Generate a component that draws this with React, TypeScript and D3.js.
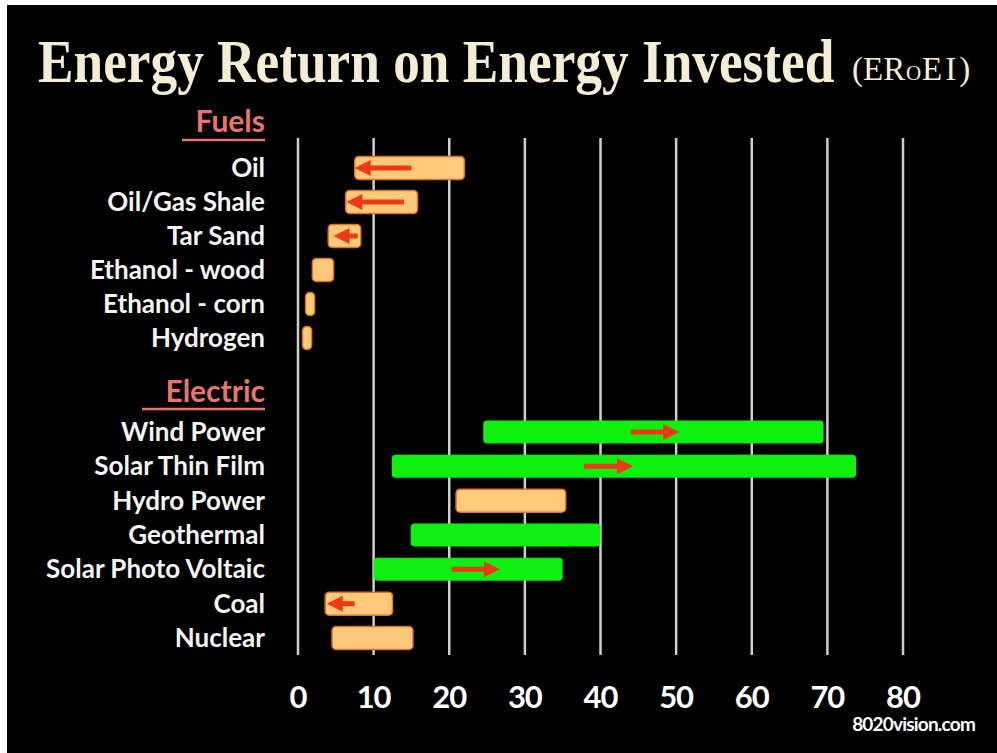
import { scaleLinear, scalePoint } from "d3";

const W = 997;
const H = 753;

const fuelNames = ["Oil", "Oil/Gas Shale", "Tar Sand", "Ethanol - wood", "Ethanol - corn", "Hydrogen"];
const fuelLow = [7.5, 6.3, 4.0, 1.9, 1.0, 0.6];
const fuelHigh = [22.0, 15.8, 8.3, 4.7, 2.2, 1.8];
const fuelTrendFrom: (number | null)[] = [15.0, 14.0, 7.9, null, null, null];
const fuelTrendTo: (number | null)[] = [7.5, 6.4, 4.7, null, null, null];

const electricNames = ["Wind Power", "Solar Thin Film", "Hydro Power", "Geothermal", "Solar Photo Voltaic", "Coal", "Nuclear"];
const electricLow = [24.5, 12.4, 20.9, 14.9, 10.0, 3.6, 4.5];
const electricHigh = [69.5, 73.8, 35.4, 40.0, 35.0, 12.5, 15.2];
const electricRenewable = [true, true, false, true, true, false, false];
const electricTrendFrom: (number | null)[] = [44.0, 37.8, null, null, 20.3, 7.5, null];
const electricTrendTo: (number | null)[] = [50.4, 44.3, null, null, 26.7, 3.8, null];

const xTicks = [0, 10, 20, 30, 40, 50, 60, 70, 80];

const ORANGE = "#ffc97c";
const ORANGE_EDGE = "#d8742c";
const GREEN = "#10f010";
const RED = "#ec3a16";
const CREAM = "#f3edd6";
const SERIF = "'Liberation Serif', 'DejaVu Serif', serif";
const LABEL_FONT = "Lato, 'Open Sans', sans-serif";

function Arrow({ x1, x2, y }: { x1: number; x2: number; y: number }) {
  const dir = x2 > x1 ? 1 : -1;
  const head = 16;
  const base = x2 - dir * head;
  return (
    <g>
      <line x1={x1} x2={base + dir * 1} y1={y} y2={y} stroke={RED} strokeWidth={5} />
      <polygon points={`${x2},${y} ${base},${y - 8} ${base},${y + 8}`} fill={RED} />
    </g>
  );
}

export default function App() {
  const x = scaleLinear().domain([0, 80]).range([298, 903]);
  const yFuel = scalePoint<string>().domain(fuelNames).range([168, 338]);
  const yElec = scalePoint<string>().domain(electricNames).range([432, 638]);
  const barH = 23;
  const labelX = 265;

  const bar = (key: string, lo: number, hi: number, cy: number, fill: string, edge: string | null) => (
    <rect
      key={key}
      x={x(lo)}
      y={cy - barH / 2}
      width={x(hi) - x(lo)}
      height={barH}
      rx={4}
      fill={fill}
      stroke={edge ?? "none"}
      strokeWidth={1.5}
    />
  );

  const label = (n: string, cy: number) => (
    <text
      x={labelX}
      y={cy + 9}
      textAnchor="end"
      fill="#f4f4f4"
      fontFamily={LABEL_FONT}
      fontWeight="bold"
      fontSize={26}
    >
      {n}
    </text>
  );

  return (
    <svg width={W} height={H} style={{ display: "block", position: "absolute", left: 0, top: 0 }}>
      <rect x={0} y={0} width={W} height={H} fill="#ffffff" />
      <rect x={7} y={5} width={W - 7} height={H - 5} fill="#000000" />

      {/* title: bold serif, stretched vertically to match the tall condensed face */}
      <g transform="translate(38,82) scale(1,1.14)">
        <text x={0} y={0} fill={CREAM} fontFamily={SERIF} fontWeight="bold" fontSize={53.3}>
          Energy Return on Energy Invested
        </text>
      </g>
      {/* (ERoEI) with a small-cap O, drawn as three pieces */}
      <text x={852} y={80} fill={CREAM} fontFamily={SERIF} fontSize={33}>
        (ER
      </text>
      <text x={906} y={80} fill={CREAM} fontFamily={SERIF} fontSize={21}>
        O
      </text>
      <text x={922} y={80} fill={CREAM} fontFamily={SERIF} fontSize={33} letterSpacing={3}>
        EI)
      </text>

      {xTicks.map((t) => (
        <line key={`g${t}`} x1={x(t)} x2={x(t)} y1={138} y2={655} stroke="#cfcfcf" strokeWidth={2.5} />
      ))}

      {/* section headers */}
      <text x={labelX} y={132} textAnchor="end" fill="#e8736f" fontFamily={LABEL_FONT} fontWeight="bold" fontSize={30}>
        Fuels
      </text>
      <line x1={182} x2={labelX} y1={140} y2={140} stroke="#e8736f" strokeWidth={2.5} />
      <text x={labelX} y={402} textAnchor="end" fill="#e8736f" fontFamily={LABEL_FONT} fontWeight="bold" fontSize={30}>
        Electric
      </text>
      <line x1={142} x2={labelX} y1={409} y2={409} stroke="#e8736f" strokeWidth={2.5} />

      {fuelNames.map((n, i) => {
        const cy = yFuel(n) ?? 0;
        const from = fuelTrendFrom[i];
        const to = fuelTrendTo[i];
        return (
          <g key={n}>
            {label(n, cy)}
            {bar(`b${n}`, fuelLow[i], fuelHigh[i], cy, ORANGE, ORANGE_EDGE)}
            {from !== null && to !== null ? <Arrow x1={x(from)} x2={x(to)} y={cy} /> : null}
          </g>
        );
      })}

      {electricNames.map((n, i) => {
        const cy = yElec(n) ?? 0;
        const from = electricTrendFrom[i];
        const to = electricTrendTo[i];
        const green = electricRenewable[i];
        return (
          <g key={n}>
            {label(n, cy)}
            {bar(`b${n}`, electricLow[i], electricHigh[i], cy, green ? GREEN : ORANGE, green ? null : ORANGE_EDGE)}
            {from !== null && to !== null ? <Arrow x1={x(from)} x2={x(to)} y={cy} /> : null}
          </g>
        );
      })}

      {xTicks.map((t) => (
        <text
          key={`t${t}`}
          x={x(t)}
          y={708}
          textAnchor="middle"
          fill="#ffffff"
          fontFamily={LABEL_FONT}
          fontWeight="bold"
          fontSize={31}
          letterSpacing={-1}
        >
          {t}
        </text>
      ))}

      <text
        x={975}
        y={731}
        textAnchor="end"
        fill="#ffffff"
        fontFamily={LABEL_FONT}
        fontWeight="bold"
        fontSize={19}
        letterSpacing={-0.8}
      >
        8020vision.com
      </text>
    </svg>
  );
}
